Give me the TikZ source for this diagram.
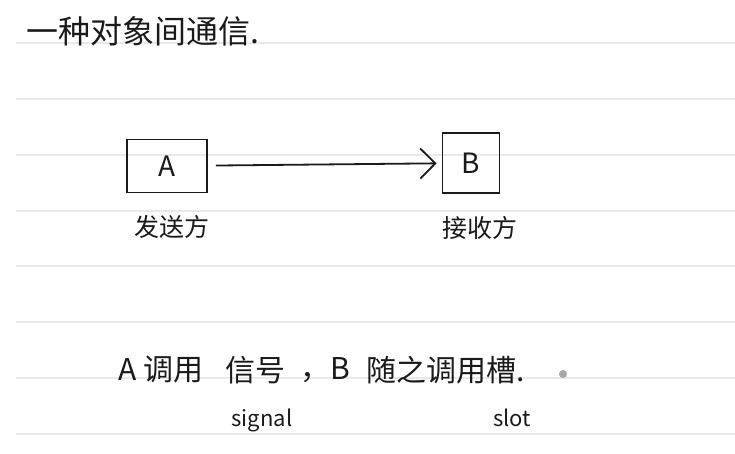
\documentclass[tikz,border=0pt]{standalone}
\usepackage{fontspec}
\setmainfont{Noto Sans CJK SC}
\usetikzlibrary{positioning,arrows.meta}
\definecolor{ink}{HTML}{1A1A1A}
\definecolor{ruling}{HTML}{E6EAEC}
\tikzset{obj/.style={draw=ink,text=ink,line width=1.8pt,minimum width=80pt,minimum height=53pt,font=\fontsize{28}{28}\selectfont},
         note/.style={text=ink,inner sep=0pt,font=\fontsize{30}{32}\selectfont},
         lbl/.style={text=ink,inner sep=0pt,font=\fontsize{25}{26}\selectfont},
         eng/.style={text=ink,inner sep=0pt,font=\fontsize{22}{24}\selectfont},
         rule/.style={draw=ruling,line width=1.2pt}
}
\tikzstyle{arrow} = [draw=ink,line width=1.8pt,shorten <=8pt,shorten >=5pt,-{Straight Barb[length=15pt,width=30pt]}]

\begin{document}
\begin{tikzpicture}[x=1pt,y=-1pt]
\useasboundingbox (0,0) rectangle (735,454);
\foreach \y in {43,99,155,211,266,322,378,434}
  \draw[rule] (16,\y) -- (735,\y);

\node[note,anchor=west,font=\fontsize{32}{34}\selectfont] (title) at (26,31) {一种对象间通信.};
\node[obj] (a) at (167,166) {A};
\node[obj,minimum width=57pt,minimum height=60pt] (b) at (471,163) {B};
\node[lbl,below=22pt of a,xshift=5pt] (sender) {发送方};
\node[lbl,below=22pt of b,xshift=9pt] (receiver) {接收方};
\draw[arrow] (a)--(b);

\node[note,anchor=west] (call) at (118,370) {A 调用};
\node[note] (sig) at (255,370) {信号};
\node[note,anchor=west] (sep) at (300,370) {，B};
\node[note,anchor=west] (rest) at (366,370) {随之调用槽.};
\node[eng] (signal) at (262,420) {signal};
\node[eng] (slot) at (512,418) {slot};
\node[circle,fill=gray!70,inner sep=0pt,minimum size=8pt] (dot) at (563,374) {};

\end{tikzpicture}
\end{document}
